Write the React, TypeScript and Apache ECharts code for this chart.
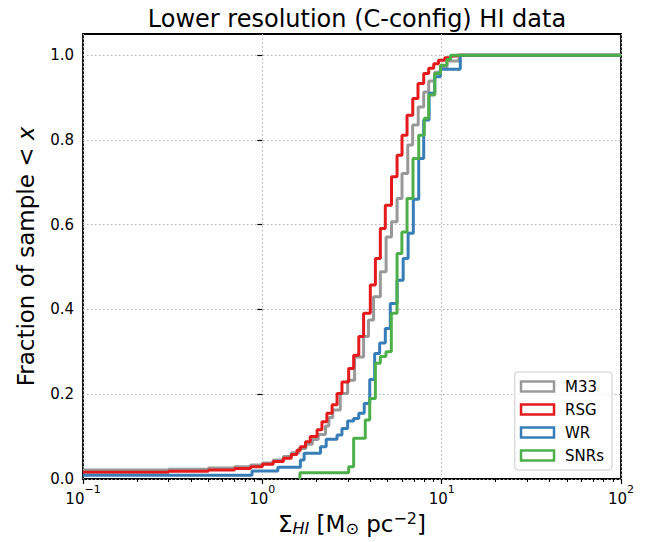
import React, { useEffect, useRef } from "react";
import * as echarts from "echarts";

const FONT = "DejaVu Sans";
const TITLE = "Lower resolution (C-config) HI data";
const seriesNames = ["M33", "RSG", "WR", "SNRs"];
const seriesColors = ["#999999", "#e41a1c", "#377eb8", "#4daf4a"];

// [x (Sigma_HI), cumulative fraction] — step points
const m33Steps = [
  [0.1, 0.021], [0.3, 0.023], [0.5, 0.026], [0.7, 0.029], [0.86, 0.033], [1.0, 0.038],
  [1.15, 0.045], [1.31, 0.053], [1.45, 0.062], [1.6, 0.072], [1.75, 0.082], [1.9, 0.093],
  [2.05, 0.105], [2.25, 0.125], [2.35, 0.145], [2.47, 0.163], [2.72, 0.202], [2.99, 0.233],
  [3.27, 0.288], [3.67, 0.336], [3.91, 0.375], [4.17, 0.43], [4.55, 0.489], [4.9, 0.571],
  [5.25, 0.607], [5.64, 0.662], [6.01, 0.721], [6.47, 0.788], [6.89, 0.835], [7.4, 0.878],
  [7.94, 0.913], [8.47, 0.939], [9.15, 0.96], [9.85, 0.971], [10.7, 0.986], [12.5, 1.0], [100, 1.0],
];
const rsgSteps = [
  [0.1, 0.016], [0.3, 0.018], [0.5, 0.021], [0.7, 0.025], [0.86, 0.029], [1.0, 0.035],
  [1.15, 0.041], [1.31, 0.049], [1.45, 0.058], [1.56, 0.068], [1.63, 0.076], [1.74, 0.088],
  [1.85, 0.1], [2.02, 0.116], [2.15, 0.135], [2.29, 0.155], [2.45, 0.175], [2.61, 0.202],
  [2.78, 0.229], [3.03, 0.261], [3.23, 0.292], [3.45, 0.336], [3.67, 0.391], [4.0, 0.458],
  [4.27, 0.52], [4.55, 0.591], [4.85, 0.646], [5.25, 0.713], [5.64, 0.764], [6.01, 0.811],
  [6.41, 0.858], [6.9, 0.898], [7.38, 0.933], [7.94, 0.957], [8.47, 0.969], [9.03, 0.98],
  [9.6, 0.988], [10.4, 0.994], [11.3, 0.998], [12.2, 1.0], [100, 1.0],
];
const wrSteps = [
  [0.1, 0.009], [0.876, 0.019], [1.22, 0.028], [1.63, 0.045], [1.71, 0.061], [2.11, 0.076],
  [2.27, 0.094], [2.61, 0.104], [2.78, 0.119], [2.99, 0.137], [3.23, 0.143], [3.45, 0.155],
  [3.7, 0.178], [3.97, 0.235], [4.23, 0.296], [4.51, 0.321], [4.85, 0.355], [5.17, 0.414],
  [5.64, 0.469], [6.1, 0.52], [6.5, 0.58], [6.95, 0.66], [7.45, 0.756], [7.94, 0.847],
  [8.51, 0.91], [9.15, 0.949], [9.83, 0.967], [12.7, 1.0], [100, 1.0],
];
const snrSteps = [
  [1.62, 0], [1.62, 0.015], [3.03, 0.029], [3.23, 0.096], [3.75, 0.139], [3.97, 0.19],
  [4.27, 0.273], [4.55, 0.289], [4.89, 0.3], [5.24, 0.391], [5.64, 0.532], [6.0, 0.583],
  [6.41, 0.662], [6.92, 0.756], [7.45, 0.811], [8.0, 0.851], [8.47, 0.906], [9.15, 0.957],
  [9.85, 0.976], [10.7, 0.99], [11.2, 1.0], [100, 1.0],
];
const allSteps = [m33Steps, rsgSteps, wrSteps, snrSteps];

const yTickValues = [0, 0.2, 0.4, 0.6, 0.8, 1.0];
const minorMultipliers = [2, 3, 4, 5, 6, 7, 8, 9];
const decadeExponents = [-1, 0, 1];

export default function App() {
  const ref = useRef<HTMLDivElement>(null);
  useEffect(() => {
    if (!ref.current) return;
    const chart = echarts.init(ref.current, null, { renderer: "svg" });
    const minorLog: number[] = [];
    decadeExponents.forEach((e) =>
      minorMultipliers.forEach((m) => minorLog.push(Math.log10(m) + e))
    );
    const gridLine = { show: true, lineStyle: { color: "#b0b0b0", type: [1.5, 2.5], width: 1 } };
    const option: any = {
      animation: false,
      textStyle: { fontFamily: FONT },
      title: {
        text: TITLE,
        left: 352,
        top: 2,
        textAlign: "center",
        textStyle: { fontSize: 24, fontWeight: "normal", color: "#000", fontFamily: FONT },
      },
      grid: {
        left: 83, right: 26, top: 34, bottom: 63,
        outerBoundsMode: "none",
        containLabel: false,
        show: true, borderColor: "#000", borderWidth: 1.8, backgroundColor: "transparent",
      },
      legend: {
        orient: "vertical",
        right: 35,
        bottom: 72,
        itemWidth: 33,
        itemHeight: 10,
        itemGap: 6,
        padding: [6, 8, 6, 5],
        borderColor: "#cccccc",
        borderWidth: 1,
        borderRadius: 3,
        backgroundColor: "rgba(255,255,255,0.8)",
        textStyle: { fontSize: 15, color: "#000", fontFamily: FONT, lineHeight: 17, padding: [0, 0, 0, 6] },
        data: seriesNames.map((n, i) => ({
          name: n,
          icon: "rect",
          itemStyle: { color: "#ffffff", borderColor: seriesColors[i], borderWidth: 2.5 },
        })),
      },
      xAxis: [
        {
          type: "log",
          logBase: 10,
          min: 0.1,
          max: 100,
          position: "bottom",
          axisLine: { show: false },
          axisTick: { show: true, length: 5, lineStyle: { color: "#000", width: 1.2 } },
          axisLabel: {
            margin: 5,
            color: "#000",
            formatter: (v: number) => {
              const e = Math.round(Math.log10(v));
              return "{b|10}{s|" + (e < 0 ? "\u2212" + -e : String(e)) + "}";
            },
            rich: {
              b: { fontSize: 15, fontFamily: FONT, color: "#000", lineHeight: 22, verticalAlign: "bottom" },
              s: { fontSize: 11, fontFamily: FONT, color: "#000", lineHeight: 12, verticalAlign: "top" },
            },
          },
          splitLine: gridLine,
          name: "\u03A3{sub|HI} [M{od|\u2299} pc{sup|\u22122}]",
          nameLocation: "middle",
          nameGap: 25,
          nameTextStyle: {
            fontSize: 23,
            fontFamily: FONT,
            color: "#000",
            lineHeight: 26,
            rich: {
              sub: { fontSize: 16, fontStyle: "italic", fontFamily: FONT, color: "#000", verticalAlign: "bottom", lineHeight: 18 },
              od: { fontSize: 16, fontFamily: FONT, color: "#000", verticalAlign: "bottom", lineHeight: 19 },
              sup: { fontSize: 16, fontFamily: FONT, color: "#000", verticalAlign: "top", lineHeight: 15 },
            },
          },
        },
        {
          type: "value",
          min: -1,
          max: 2,
          position: "bottom",
          axisLine: { show: false },
          axisTick: { show: true, length: 3, customValues: minorLog, lineStyle: { color: "#000", width: 1 } },
          axisLabel: { show: false },
          splitLine: { show: false },
        },
      ],
      yAxis: {
        type: "value",
        min: 0,
        max: 1.05,
        axisLine: { show: false },
        axisTick: { show: true, length: 5, customValues: yTickValues, lineStyle: { color: "#000", width: 1.2 } },
        axisLabel: {
          customValues: yTickValues,
          formatter: (v: number) => v.toFixed(1),
          fontSize: 15,
          color: "#000",
          margin: 9,
          fontFamily: FONT,
        },
        splitLine: gridLine,
        name: "Fraction of sample < {i|x}",
        nameLocation: "middle",
        nameGap: 46,
        nameTextStyle: {
          fontSize: 23,
          fontFamily: FONT,
          color: "#000",
          rich: { i: { fontSize: 23, fontStyle: "italic", fontFamily: FONT, color: "#000" } },
        },
      },
      series: seriesNames.map((n, i) => ({
        name: n,
        type: "line",
        step: "end",
        xAxisIndex: 0,
        yAxisIndex: 0,
        showSymbol: false,
        symbol: "none",
        data: allSteps[i],
        lineStyle: { color: seriesColors[i], width: 3 },
        itemStyle: { color: seriesColors[i] },
        clip: true,
      })),
    };
    chart.setOption(option);
    return () => chart.dispose();
  }, []);
  return (
    <div
      ref={ref}
      style={{ position: "fixed", left: 0, top: 0, width: 647, height: 542, background: "#fff" }}
    />
  );
}
